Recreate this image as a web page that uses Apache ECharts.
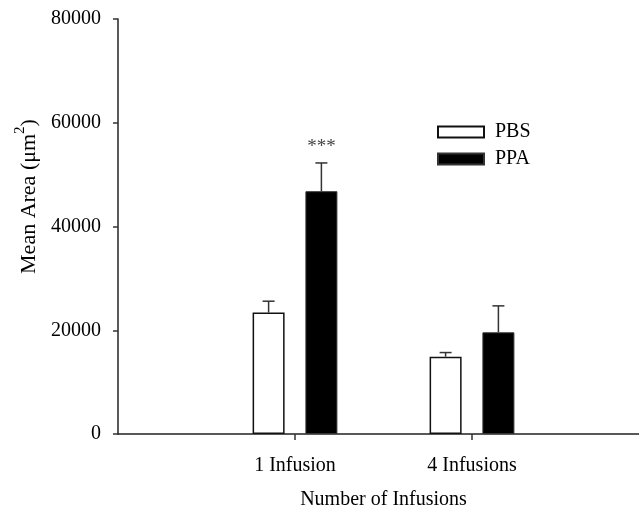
<!DOCTYPE html>
<html>
<head>
<meta charset="utf-8">
<script src="https://cdn.jsdelivr.net/npm/echarts@6/dist/echarts.min.js"></script>
<style>
  html, body { margin: 0; padding: 0; background: #fff; }
  #chart { width: 639px; height: 512px; }
</style>
</head>
<body>
<div id="chart"></div>
<script>
// Group labels along the x axis
const categories = ['1 Infusion', '4 Infusions'];
// Mean area (µm²) and SEM per group
const pbsMean = [23400, 14900];
const pbsErr = [2200, 800];
const ppaMean = [46800, 19600];
const ppaErr = [5450, 5100];
// Significance markers placed over the PPA error bars
const sigMarks = ['***', ''];
// Y axis ticks
const yTicks = [0, 20000, 40000, 60000, 80000];

const FONT = 'Liberation Serif';
const BAR_W = 32;
const BAR_GAP = 0.65;
const HALF_STEP = (BAR_W + BAR_W * BAR_GAP) / 2;

// Empty slots at both ends keep the groups away from the axis edges
const axisCats = [''].concat(categories, ['']);
const padSeries = arr => ['-'].concat(arr, ['-']);

function errorBars(means, errs, offset, marks) {
  return function (params, api) {
    const idx = api.value(0);
    const x = api.coord([idx, 0])[0] + offset;
    const yBase = api.coord([idx, api.value(1)])[1];
    const yTop = api.coord([idx, api.value(1) + api.value(2)])[1];
    const style = { stroke: '#333', lineWidth: 1.5 };
    const children = [
      { type: 'line', shape: { x1: x, y1: yBase, x2: x, y2: yTop }, style: style },
      { type: 'line', shape: { x1: x - 6, y1: yTop, x2: x + 6, y2: yTop }, style: style }
    ];
    const mark = marks ? marks[params.dataIndex] : '';
    if (mark) {
      children.push({
        type: 'text',
        style: {
          text: mark, x: x, y: yTop - 16,
          align: 'center', verticalAlign: 'middle',
          font: '19px "' + FONT + '"', fill: '#444'
        }
      });
    }
    return { type: 'group', children: children };
  };
}

const chart = echarts.init(document.getElementById('chart'));
chart.setOption({
  backgroundColor: '#fff',
  animation: false,
  textStyle: { fontFamily: FONT, color: '#000' },
  grid: { left: 118, right: -10, top: 19, bottom: 78, outerBoundsMode: 'none', containLabel: false },
  legend: {
    data: ['PBS', 'PPA'],
    orient: 'vertical',
    left: 437, top: 122,
    padding: 0,
    icon: 'rect',
    itemWidth: 46, itemHeight: 11, itemGap: 7,
    textStyle: { fontFamily: FONT, fontSize: 20, color: '#000', padding: [0, 0, 0, 6] }
  },
  xAxis: {
    type: 'category',
    data: axisCats,
    boundaryGap: false,
    name: 'Number of Infusions',
    nameLocation: 'middle',
    nameGap: 56,
    nameTextStyle: { fontFamily: FONT, fontSize: 20, color: '#000' },
    axisLine: { lineStyle: { color: '#222', width: 1.5 } },
    axisTick: {
      length: 6,
      lineStyle: { color: '#333', width: 1.5 },
      interval: (i) => i > 0 && i < axisCats.length - 1
    },
    axisLabel: {
      interval: 0, margin: 22,
      fontFamily: FONT, fontSize: 20, color: '#000'
    },
    splitLine: { show: false }
  },
  yAxis: {
    type: 'value',
    min: yTicks[0], max: yTicks[yTicks.length - 1],
    interval: yTicks[1] - yTicks[0],
    name: '{t|Mean Area (μm}{sup|2}{t|)}',
    nameLocation: 'middle',
    nameRotate: 90,
    nameGap: 77,
    nameTextStyle: {
      fontFamily: FONT, fontSize: 22, color: '#000',
      padding: [0, 0, 0, 60],
      rich: {
        t: { fontFamily: FONT, fontSize: 22, color: '#000', lineHeight: 28, verticalAlign: 'bottom' },
        sup: { fontFamily: FONT, fontSize: 15, color: '#000', lineHeight: 15, verticalAlign: 'top' }
      }
    },
    axisLine: { show: true, lineStyle: { color: '#222', width: 1.5 } },
    axisTick: { show: true, length: 5, lineStyle: { color: '#333', width: 1.5 } },
    axisLabel: {
      margin: 17, fontFamily: FONT, fontSize: 20, color: '#000',
      formatter: v => String(v)
    },
    splitLine: { show: false }
  },
  series: [
    {
      name: 'PBS', type: 'bar',
      data: padSeries(pbsMean),
      barWidth: BAR_W, barGap: (BAR_GAP * 100) + '%',
      itemStyle: { color: '#fff', borderColor: '#111', borderWidth: 1.5 }
    },
    {
      name: 'PPA', type: 'bar',
      data: padSeries(ppaMean),
      barWidth: BAR_W, barGap: (BAR_GAP * 100) + '%',
      itemStyle: { color: '#000', borderColor: '#333', borderWidth: 1 }
    },
    {
      name: 'PBS SEM', type: 'custom', z: 3,
      renderItem: errorBars(pbsMean, pbsErr, -HALF_STEP, null),
      data: pbsMean.map((m, i) => [i + 1, m, pbsErr[i]])
    },
    {
      name: 'PPA SEM', type: 'custom', z: 3,
      renderItem: errorBars(ppaMean, ppaErr, HALF_STEP, sigMarks),
      data: ppaMean.map((m, i) => [i + 1, m, ppaErr[i]])
    }
  ]
});
</script>
</body>
</html>
